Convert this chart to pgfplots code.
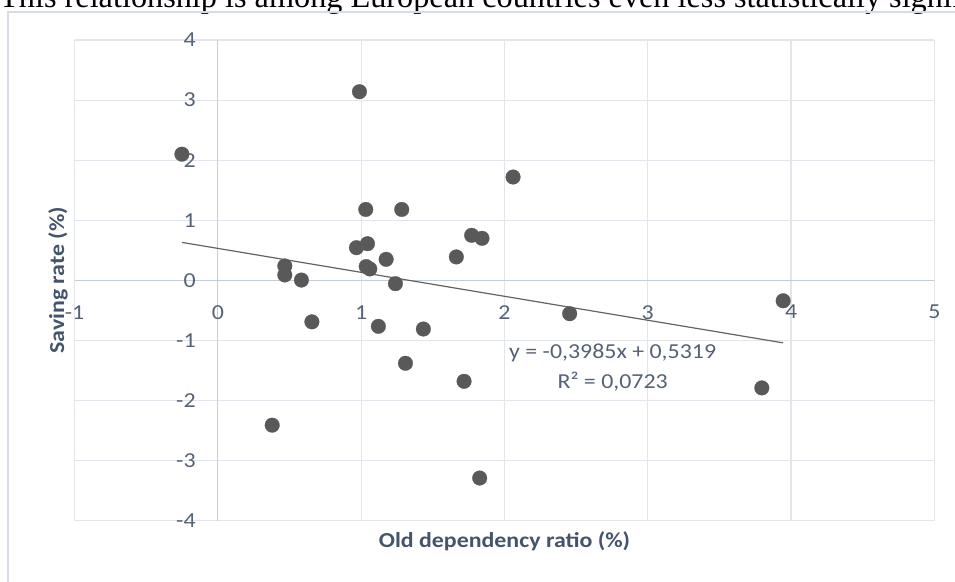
\documentclass[border=0pt]{standalone}
\usepackage{pgfplots}
\pgfplotsset{compat=1.18}
\usepackage{fontspec}
\setmainfont{Carlito}[FakeStretch=1.12]
\newfontfamily\titlefont{Liberation Serif}
\definecolor{gridc}{HTML}{E2E6EC}
\definecolor{axc}{HTML}{C4CCD8}
\definecolor{txt}{HTML}{44546A}
\definecolor{tickc}{HTML}{556275}
\definecolor{mk}{HTML}{595959}
\definecolor{trend}{HTML}{636363}
\definecolor{framec}{HTML}{D6DCE4}
\begin{document}
\begin{tikzpicture}[x=0.75pt,y=0.75pt]
\path[use as bounding box] (0,0) rectangle (955,581);
\clip (0,0) rectangle (955,581);
\node[anchor=base west, inner sep=0, font=\titlefont\fontsize{24.2}{29}\selectfont] at (-1,573.7) {This relationship is among European countries even less statistically significant};
\draw[framec, line width=1.2pt] (8,-20) -- (8,569) -- (1000,569);
\begin{axis}[
  at={(55.95pt,45.225pt)}, anchor=south west,
  scale only axis, width=644.8pt, height=360.5pt,
  xmin=-1, xmax=5, ymin=-4, ymax=4,
  axis lines=middle,
  axis line style={-, axc, line width=0.9pt},
  hide obscured x ticks=false, hide obscured y ticks=false,
  xtick={-1,0,1,2,3,4,5}, ytick={-4,-3,-2,-1,0,1,2,3,4},
  major tick length=0pt,
  grid=major,
  major grid style={gridc, line width=0.9pt},
  /pgf/number format/assume math mode=true,
  ticklabel style={font=\fontsize{16}{19}\selectfont, text=tickc, inner sep=0pt},
  xticklabel style={anchor=north, yshift=-18.5pt},
  yticklabel style={anchor=east, xshift=-16.5pt},
  xlabel={Old dependency ratio (\%)},
  ylabel={Saving rate (\%)},
  every axis x label/.style={at={(axis description cs:0.5,-0.0437)}, anchor=center, font=\bfseries\fontsize{16}{19}\selectfont, text=txt},
  every axis y label/.style={at={(axis description cs:-0.0193,0.5)}, rotate=90, anchor=center, font=\bfseries\fontsize{16}{19}\selectfont, text=txt},
  clip=false,
]
\addplot[only marks, mark=*, mark size=5.5pt, mark options={draw=mk, fill=mk, line width=0.2pt}] coordinates {
(-0.251,2.10) (0.467,0.24) (0.467,0.09) (0.583,0.005) (0.988,3.14)
(1.032,1.18) (1.283,1.18) (2.06,1.72) (0.967,0.544) (1.044,0.61)
(1.174,0.35) (1.035,0.23) (1.06,0.19) (1.239,-0.055) (1.664,0.39)
(1.771,0.75) (1.843,0.70) (0.656,-0.69) (0.379,-2.41) (1.12,-0.765)
(1.434,-0.81) (1.309,-1.38) (1.718,-1.68) (1.827,-3.29) (2.455,-0.555)
(3.945,-0.34) (3.796,-1.79)
};
\addplot[no marks, trend, line width=0.9pt] coordinates {(-0.251,0.6319) (3.945,-1.0402)};
\node[align=center, text=tickc, font=\fontsize{16}{22.5}\selectfont, inner sep=0pt] at (axis cs:2.755,-1.448) {y = -0,3985x + 0,5319\\R² = 0,0723};
\end{axis}
\end{tikzpicture}
\end{document}
